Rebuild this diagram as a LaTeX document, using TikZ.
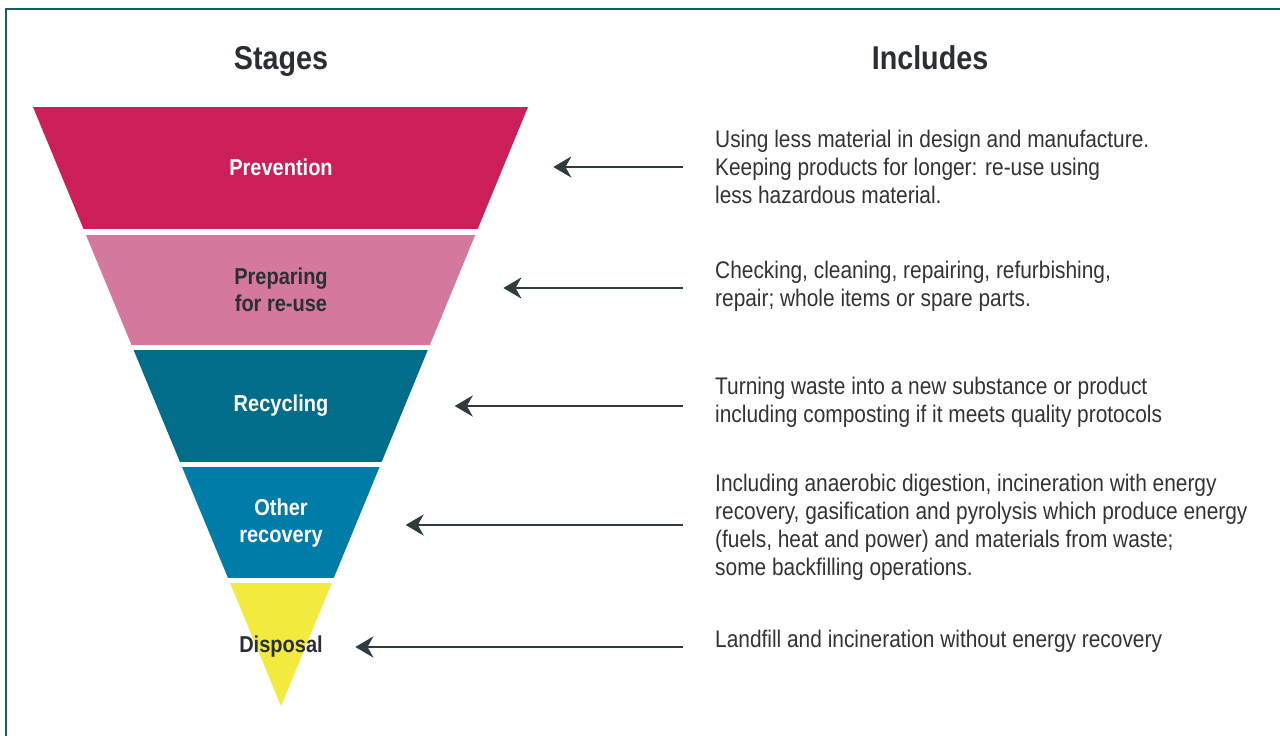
\documentclass[tikz,border=0pt]{standalone}
\usepackage{fontspec}
\setmainfont{Liberation Sans}[FakeStretch=0.87]
\usepackage{tikz}
\usetikzlibrary{arrows.meta,positioning,calc}
\definecolor{prevcol}{HTML}{CC1F5A}
\definecolor{prepcol}{HTML}{D4789E}
\definecolor{recycol}{HTML}{006D8A}
\definecolor{othercol}{HTML}{007CA9}
\definecolor{dispcol}{HTML}{F2EA3C}
\definecolor{arrowcol}{HTML}{2E3B3F}
\definecolor{framecol}{HTML}{1F5C60}
\definecolor{desccol}{HTML}{333333}
\definecolor{headcol}{HTML}{2A2F33}
\tikzset{
  >=Stealth,
  every node/.append style={font=\fontsize{21}{28}\selectfont},
}
\tikzset{
  stage/.style={align=center, text=white, font=\fontsize{23}{27}\selectfont\bfseries},
  desc/.style={anchor=west, align=left, inner sep=0pt, text=desccol, font=\fontsize{24}{28}\selectfont},
  head/.style={text=headcol, font=\fontsize{33}{36}\selectfont\bfseries},
  arrow/.style={-{Stealth[length=18pt,width=21pt]}, line width=2.8pt, draw=arrowcol},
  frame/.style={draw=framecol, line width=2pt}
}

\begin{document}
\begin{tikzpicture}[x=1pt, y=-1pt]
\useasboundingbox (0,0) rectangle (1280,736);
\draw[frame] (6,9) rectangle (1300,760);

% Headings
\node[head, anchor=base] (stages) at (281,69) {Stages};
\node[head, anchor=base] (includes) at (930,69) {Includes};

% Funnel - one triangle, cut into bands
\begin{scope}
  \clip (33,107) -- (528,107) -- (281,706) -- cycle;
  \foreach \top/\bot/\col in {107/229/prevcol, 235/345/prepcol, 350/462/recycol, 467/578/othercol, 583/706/dispcol}
    \fill[\col] (0,\top) rectangle (600,\bot);
\end{scope}

% Stage labels
\node[stage] (s1) at (281,167) {Prevention};
\node[stage, text=headcol] (s2) at (281,290) {Preparing\\for re-use};
\node[stage] (s3) at (281,406) {Recycling};
\node[stage] (s4) at (281,523) {Other\\recovery};
\node[stage, text=headcol] (s5) at (281,647) {Disposal};

% What each stage includes
\node[desc] (d1) at (715,167) {Using less material in design and manufacture.\\Keeping products for longer: re-use using\\less hazardous material.};
\node[desc] (d2) at (715,286) {Checking, cleaning, repairing, refurbishing,\\repair; whole items or spare parts.};
\node[desc] (d3) at (715,402) {Turning waste into a new substance or product\\including composting if it meets quality protocols};
\node[desc] (d4) at (715,527) {Including anaerobic digestion, incineration with energy\\recovery, gasification and pyrolysis which produce energy\\(fuels, heat and power) and materials from waste;\\some backfilling operations.};
\node[desc] (d5) at (715,641) {Landfill and incineration without energy recovery};

% Arrows - tips sit 50px right of the funnel edge
\foreach \n/\y in {1/167, 2/288, 3/406, 4/525, 5/647}
  \coordinate (t\n) at ({281+0.41235*(706-\y)+50},\y);
\foreach \n in {1,...,5}
  \draw[arrow] ($(d\n.west |- t\n)+(-32,0)$) -- (t\n);
\end{tikzpicture}
\end{document}
